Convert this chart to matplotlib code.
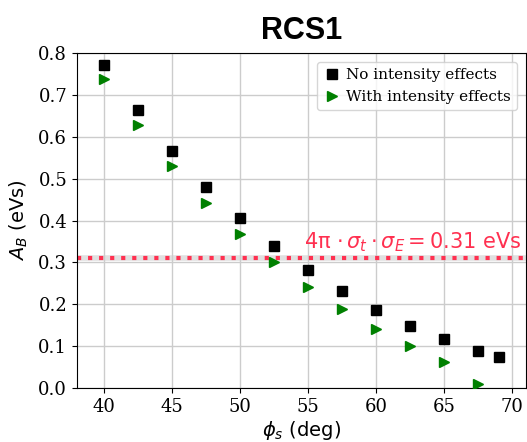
import matplotlib
matplotlib.use("Agg")
import matplotlib.pyplot as plt

# phase angle (deg) and bucket area (eVs)
phi_no = [40, 42.5, 45, 47.5, 50, 52.5, 55, 57.5, 60, 62.5, 65, 67.5, 69]
ab_no = [0.772, 0.663, 0.567, 0.481, 0.405, 0.339, 0.282, 0.231, 0.186, 0.148, 0.116, 0.088, 0.074]

phi_with = [40, 42.5, 45, 47.5, 50, 52.5, 55, 57.5, 60, 62.5, 65, 67.5]
ab_with = [0.737, 0.627, 0.530, 0.443, 0.369, 0.300, 0.242, 0.189, 0.142, 0.100, 0.062, 0.010]

emittance_limit = 0.31

plt.rcParams['font.family'] = 'DejaVu Serif'
plt.rcParams['mathtext.fontset'] = 'dejavusans'

fig = plt.figure(figsize=(5.27, 4.42), dpi=100)
ax = fig.add_axes([0.146, 0.122, 0.852, 0.758])

ax.plot(phi_no, ab_no, 's', color='black', markersize=7, label='No intensity effects', zorder=3)
ax.plot(phi_with, ab_with, '>', color='green', markersize=7, label='With intensity effects', zorder=3)

ax.axhline(emittance_limit, color='#cccccc', lw=4, alpha=0.6, zorder=1)
ax.axhline(emittance_limit, color='#ff3050', lw=3, ls=':', zorder=2)
ax.text(70.7, emittance_limit + 0.010,
        r'4π $\cdot\,\sigma_t\cdot\sigma_E = 0.31$ eVs',
        color='#ff3050', fontsize=15, family='DejaVu Sans', va='bottom', ha='right')

ax.set_xlim(38, 71)
ax.set_ylim(0, 0.8)
ax.set_xticks([40, 45, 50, 55, 60, 65, 70])
ax.tick_params(labelsize=13)
ax.grid(True, color='#cccccc', lw=1)
ax.set_axisbelow(True)

ax.set_xlabel(r'$\phi_s$ (deg)', fontsize=14, family='DejaVu Sans', labelpad=2)
ax.set_ylabel(r'$A_B$ (eVs)', fontsize=14, family='DejaVu Sans', labelpad=6)
ax.set_title('RCS1', fontsize=22, fontweight='bold', family='Liberation Sans', pad=10)

ax.legend(loc='upper right', fontsize=11, handletextpad=0.3, handlelength=1.2,
          borderaxespad=0.6)

fig.savefig('out.png', dpi=100)
